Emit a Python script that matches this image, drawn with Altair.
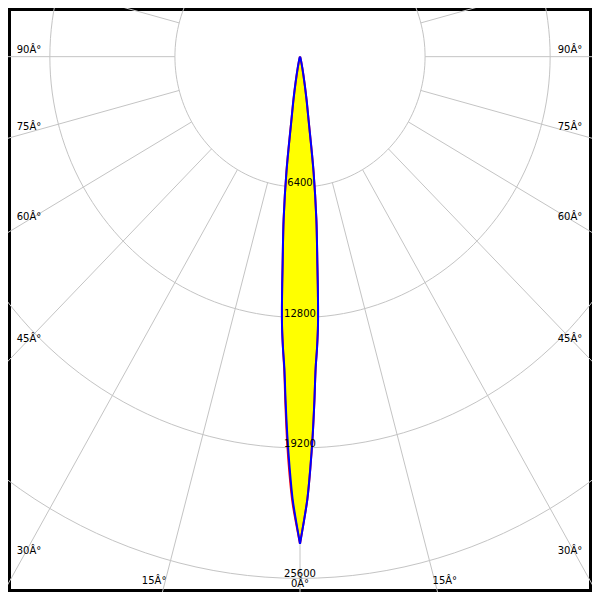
import altair as alt
import numpy as np
import pandas as pd

# ---------------- data ----------------
beam_angles = [0, 0.5, 1, 1.5, 2, 2.5, 3, 3.5, 4, 4.5, 5, 6, 7, 8, 9, 10, 12, 15, 20, 25, 90]
blue_cd = [23900, 22800, 21700, 20200, 18600, 16900, 15300, 14300, 13200, 11700,
           10200, 8000, 5700, 3200, 2150, 1400, 600, 200, 50, 0, 0]
red_cd_left = [23900, 22900, 21900, 20500, 18900, 17100, 15400, 14300, 13200, 11700,
               10200, 8000, 5700, 3200, 2100, 1300, 450, 150, 40, 0, 0]
red_cd_right = [23900, 22800, 21700, 20200, 18600, 16900, 15300, 14300, 13200, 11700,
                10200, 8000, 5700, 3200, 2150, 1400, 600, 200, 50, 0, 0]

ring_values = [6400, 12800, 19200, 25600]
ring_labels = ["6400", "12800", "19200", "25600"]
ray_angles = list(range(-165, 181, 15))
side_label_angles = [90, 75, 60, 45, 30]
side_label_texts = ["90Â°", "75Â°", "60Â°", "45Â°", "30Â°"]
bottom_label_angle = 15
bottom_label_text = "15Â°"
zero_label_text = "0Â°"

# ---------------- geometry of the reference (pixels) ----------------
REF = 600.0
CX, CY = 300.0, 50.0                 # centre of the diagram
KX = 128.5 / 6400.0                  # px per cd horizontally
KY = 134.0 / 6400.0                  # px per cd vertically
SIZE = 584

XDOM = [(-CX) / KX, (REF - CX) / KX]
YDOM = [(-CY) / KY, (REF - CY) / KY]
xs = alt.Scale(domain=XDOM, nice=False, zero=False)
ys = alt.Scale(domain=YDOM, nice=False, zero=False, reverse=True)
GRID = "#c4c4c4"
FONT = "DejaVu Sans"

# ---------------- tables ----------------
rings = []
for r in ring_values:
    for i, a in enumerate(range(0, 361, 2)):
        t = np.radians(a)
        rings.append({"ring": r, "i": i, "x": r * np.sin(t), "y": r * np.cos(t)})
rings = pd.DataFrame(rings)

rays = []
for a in ray_angles:
    t = np.radians(a)
    for i, r in enumerate([ring_values[0], 60000]):
        rays.append({"ray": a, "i": i, "x": r * np.sin(t), "y": r * np.cos(t)})
rays = pd.DataFrame(rays)


def outline(left, right):
    pts = []
    n = 0
    for a, v in reversed(list(zip(beam_angles, left))):
        t = np.radians(a)
        pts.append({"i": n, "x": -v * np.sin(t), "y": v * np.cos(t)}); n += 1
    for a, v in zip(beam_angles, right):
        t = np.radians(a)
        pts.append({"i": n, "x": v * np.sin(t), "y": v * np.cos(t)}); n += 1
    return pd.DataFrame(pts)


blue_line = outline(blue_cd, blue_cd)
red_line = outline(red_cd_left, red_cd_right)

fill = pd.DataFrame({
    "y": [v * np.cos(np.radians(a)) for a, v in zip(beam_angles, blue_cd)],
    "xl": [-v * np.sin(np.radians(a)) for a, v in zip(beam_angles, blue_cd)],
    "xr": [v * np.sin(np.radians(a)) for a, v in zip(beam_angles, blue_cd)],
})

ring_lab = pd.DataFrame({"x": [0.0] * len(ring_values), "y": ring_values, "t": ring_labels})
zero_lab = pd.DataFrame({"x": [0.0], "y": [ring_values[-1] + 9.0 / KY], "t": [zero_label_text]})

edge_off = (CX - 15.0) / KX
side_y = [edge_off / np.tan(np.radians(a)) if a != 90 else 0.0 for a in side_label_angles]
left_lab = pd.DataFrame({"x": [(9.0 - CX) / KX] * len(side_y), "y": side_y, "t": side_label_texts})
right_lab = pd.DataFrame({"x": [(590.0 - CX) / KX] * len(side_y), "y": side_y, "t": side_label_texts})

by = (592.0 - CY) / KY
bx = by * np.tan(np.radians(bottom_label_angle))
bl_lab = pd.DataFrame({"x": [-bx], "y": [by], "t": [bottom_label_text]})
br_lab = pd.DataFrame({"x": [bx], "y": [by], "t": [bottom_label_text]})

X = lambda f="x": alt.X(f"{f}:Q", scale=xs, axis=None)
Y = lambda f="y": alt.Y(f"{f}:Q", scale=ys, axis=None)

ring_layer = alt.Chart(rings).mark_line(color=GRID, strokeWidth=1, clip=True).encode(
    x=X(), y=Y(), detail="ring:N", order="i:Q")
ray_layer = alt.Chart(rays).mark_line(color=GRID, strokeWidth=1, clip=True).encode(
    x=X(), y=Y(), detail="ray:N", order="i:Q")
fill_layer = alt.Chart(fill).mark_area(orient="horizontal", color="#ffff00", opacity=1,
                                       interpolate="catmull-rom").encode(
    y=Y("y"), x=X("xl"), x2="xr:Q")
red_layer = alt.Chart(red_line).mark_line(color="#ff0000", strokeWidth=2,
                                          interpolate="catmull-rom").encode(
    x=X(), y=Y(), order="i:Q")
blue_layer = alt.Chart(blue_line).mark_line(color="#0000ff", strokeWidth=2,
                                            interpolate="catmull-rom").encode(
    x=X(), y=Y(), order="i:Q")


def txt(df, align, dx=0, dy=0):
    return alt.Chart(df).mark_text(align=align, baseline="alphabetic", dx=dx, dy=dy,
                                   font=FONT, fontSize=10, color="black").encode(
        x=X(), y=Y(), text="t:N")


chart = alt.layer(
    ring_layer, ray_layer, fill_layer, red_layer, blue_layer,
    txt(ring_lab, "center", dy=-1),
    txt(zero_lab, "center"),
    txt(left_lab, "left", dy=-4),
    txt(right_lab, "right", dy=-4),
    txt(bl_lab, "right", dx=2),
    txt(br_lab, "left", dx=-3),
).properties(
    width=SIZE, height=SIZE, padding=0, autosize=alt.AutoSizeParams(type="none"),
    background="white",
).configure_view(stroke="black", strokeWidth=6)

chart.save("out.html", embed_options={"renderer": "svg", "actions": False})
